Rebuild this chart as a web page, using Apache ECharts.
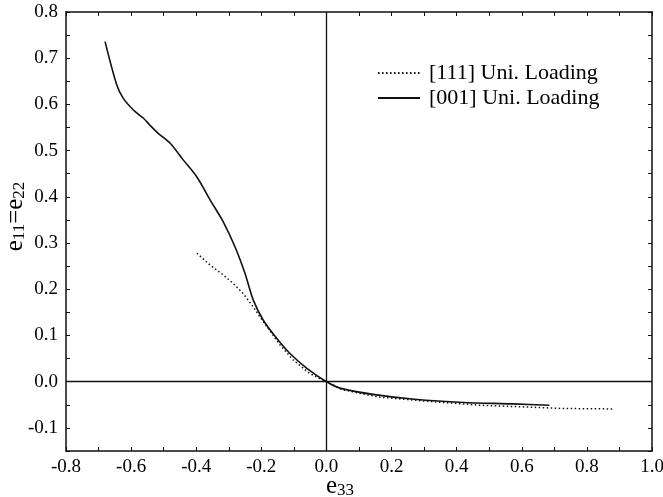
<!DOCTYPE html>
<html>
<head>
<meta charset="utf-8">
<script src="https://cdn.jsdelivr.net/npm/echarts@6/dist/echarts.min.js"></script>
<style>html,body{margin:0;padding:0;background:#fff}#c{width:663px;height:497px}</style>
</head>
<body>
<div id="c"></div>
<script>
const seriesNames = ['[111] Uni. Loading', '[001] Uni. Loading'];
const e33_111 = [-0.398,-0.357,-0.317,-0.287,-0.256,-0.225,-0.194,-0.168,-0.142,-0.102,-0.052,0.0,0.047,0.158,0.32,0.472,0.624,0.726,0.878];
const e11_111 = [0.278,0.252,0.231,0.213,0.191,0.162,0.130,0.105,0.079,0.047,0.018,0.0,-0.017,-0.033,-0.043,-0.051,-0.055,-0.058,-0.059];
const e33_001 = [-0.680,-0.644,-0.624,-0.593,-0.562,-0.542,-0.516,-0.480,-0.440,-0.398,-0.357,-0.317,-0.281,-0.250,-0.225,-0.194,-0.153,-0.112,-0.060,0.0,0.047,0.148,0.27,0.42,0.574,0.685];
const e11_001 = [0.736,0.642,0.613,0.588,0.570,0.555,0.537,0.516,0.480,0.443,0.393,0.346,0.292,0.234,0.177,0.133,0.094,0.061,0.029,0.0,-0.015,-0.028,-0.038,-0.045,-0.048,-0.051];
const xTicks = {min:-0.8, max:1.0, step:0.2};
const yTicks = {min:-0.15, max:0.8, step:0.05, labelStep:0.1};

const pair = (xs, ys) => xs.map((x, i) => [x, ys[i]]);
const FONT = 'Liberation Serif';
const isMult = (v, s) => Math.abs(v / s - Math.round(v / s)) < 1e-6;
const axisCommon = {
  type: 'value',
  nameMoveOverlap: false,
  axisLine: {show: true, onZero: false, lineStyle: {color: '#111', width: 1.5}},
  axisTick: {show: true, inside: true, length: 4, lineStyle: {color: '#111', width: 1}},
  splitLine: {show: false},
  axisLabel: {color: '#000', fontFamily: FONT, fontSize: 19, formatter: v => v.toFixed(1)}
};
const nameRich = {
  e: {fontFamily: FONT, fontSize: 25, color: '#000', lineHeight: 26},
  s: {fontFamily: FONT, fontSize: 17, color: '#000', lineHeight: 26, padding: [9, 0, 0, 0]}
};
const chart = echarts.init(document.getElementById('c'));
chart.setOption({
  animation: false,
  backgroundColor: '#fff',
  grid: {left: 66, right: 11, top: 12, bottom: 46, containLabel: false, outerBoundsMode: 'none'},
  legend: {
    orient: 'vertical', left: 372, top: 57, itemWidth: 42, itemHeight: 10, itemGap: 3,
    textStyle: {fontFamily: FONT, fontSize: 22, color: '#000', padding: [0, 0, 0, 4]},
    itemStyle: {color: 'transparent', borderWidth: 0, opacity: 0},
    data: seriesNames
  },
  xAxis: [
    Object.assign({}, axisCommon, {
      min: xTicks.min, max: xTicks.max, interval: xTicks.step, position: 'bottom',
      minorTick: {show: true, splitNumber: 2, length: 4, lineStyle: {color: '#111', width: 1}},
      name: '{e|e}{s|33}', nameLocation: 'middle', nameGap: 22,
      nameTextStyle: {padding: [0, 38, 0, 0], rich: nameRich},
      axisLabel: Object.assign({}, axisCommon.axisLabel, {margin: 7})
    }),
    Object.assign({}, axisCommon, {
      min: xTicks.min, max: xTicks.max, interval: xTicks.step, position: 'top',
      minorTick: {show: true, splitNumber: 2, length: 4, lineStyle: {color: '#111', width: 1}},
      axisLabel: {show: false}
    })
  ],
  yAxis: [
    Object.assign({}, axisCommon, {
      min: yTicks.min, max: yTicks.max, interval: yTicks.step, position: 'left',
      name: '{e|e}{s|11}{e|=e}{s|22}', nameLocation: 'middle', nameGap: 38,
      nameTextStyle: {padding: [0, 0, 0, 30], rich: nameRich},
      axisLabel: Object.assign({}, axisCommon.axisLabel, {margin: 8,
        formatter: v => (isMult(v, yTicks.labelStep) ? v.toFixed(1) : '')})
    }),
    Object.assign({}, axisCommon, {
      min: yTicks.min, max: yTicks.max, interval: yTicks.step, position: 'right',
      axisLabel: {show: false}
    })
  ],
  series: [
    {
      name: seriesNames[0], type: 'line', showSymbol: false, symbol: 'none',
      data: pair(e33_111, e11_111), smooth: false,
      lineStyle: {color: '#111', width: 1.5, type: [1.5, 2.5]},
      itemStyle: {color: '#111'},
      z: 3
    },
    {
      name: seriesNames[1], type: 'line', showSymbol: false, symbol: 'none',
      data: pair(e33_001, e11_001), smooth: 0.3,
      lineStyle: {color: '#111', width: 1.6},
      itemStyle: {color: '#111'},
      z: 4,
      markLine: {
        silent: true, symbol: 'none', label: {show: false},
        lineStyle: {color: '#111', width: 1.3, type: 'solid'},
        data: [{xAxis: 0}, {yAxis: 0}]
      }
    }
  ]
});
</script>
</body>
</html>
